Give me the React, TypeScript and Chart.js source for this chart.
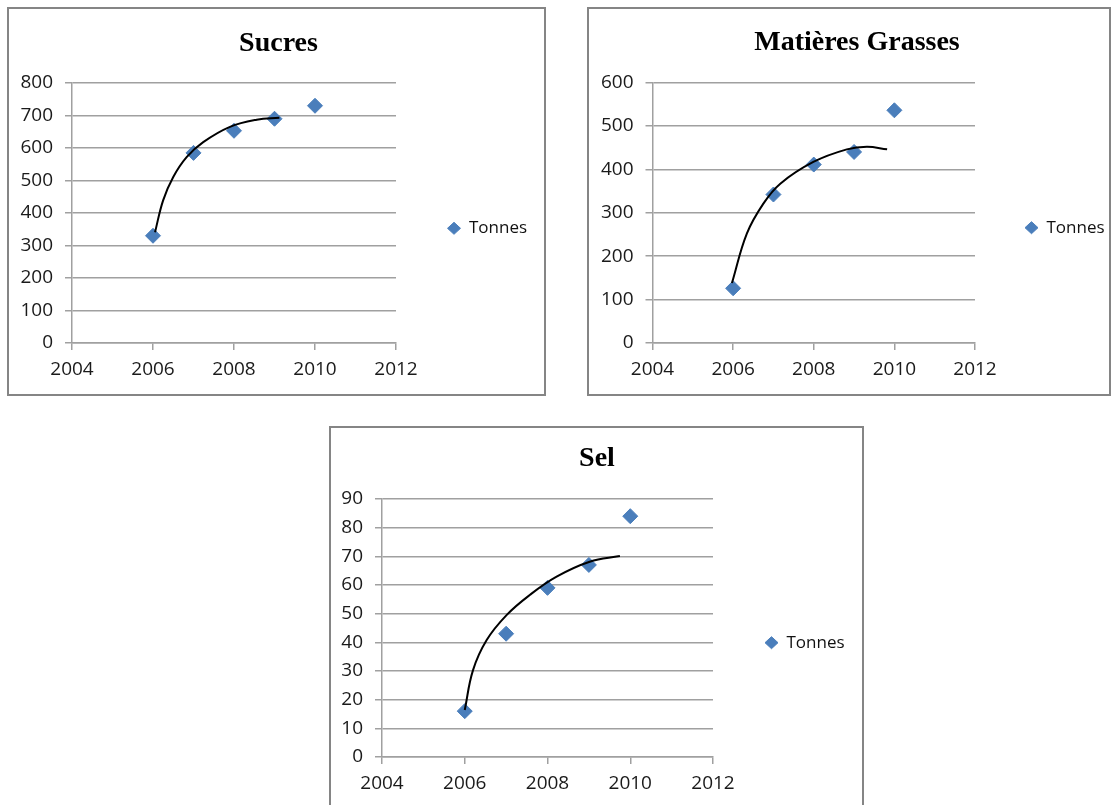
import React, { useEffect, useRef } from 'react';
import { Chart, registerables } from 'chart.js';

Chart.register(...registerables);

// ---------- data ----------
const years = [2006, 2007, 2008, 2009, 2010];
const sucresTonnes = [330, 585, 653, 690, 730];
const grassesTonnes = [126, 342, 411, 440, 536];
const selTonnes = [16, 43, 59, 67, 84];

// trend curves
const sucresTrendX = [2006.05, 2006.25, 2006.5, 2006.83, 2007.24, 2007.9, 2008.56, 2009.12];
const sucresTrendY = [341, 439, 511, 572, 618, 665, 687, 693];
const grassesTrendX = [2005.97, 2006.34, 2006.75, 2007.17, 2007.99, 2008.82, 2009.32, 2009.82];
const grassesTrendY = [138, 252, 321, 367, 417, 446, 452, 446];
const selTrendX = [2006.0, 2006.2, 2006.53, 2007.01, 2007.57, 2008.22, 2009.02, 2009.75];
const selTrendY = [16.4, 30.3, 40.8, 49.5, 56.5, 62.9, 68.1, 70.1];

const xMin = 2004;
const xMax = 2012;
const xStep = 2;
const seriesName = 'Tonnes';
const titles = ['Sucres', 'Matières Grasses', 'Sel'];
const yMaxes = [800, 600, 90];
const ySteps = [100, 100, 10];

// ---------- styles ----------
const SANS = '"Open Sans", "Liberation Sans", sans-serif';
const SERIF = '"Liberation Serif", "Times New Roman", serif';
const GRID = '#a0a0a0';
const MARKER = '#4a7ebb';

type Layout = {
  left: number; top: number; w: number; h: number; cw: number;
  padL: number; padR: number; padB: number;
  titlePt: number; titlePb: number;
  yWidth: number; xHeight: number;
  legPad: number; legMaxW: number; legTitleH: number;
};

const layouts: Layout[] = [
  { left: 7, top: 7, w: 539, h: 389, cw: 535, padL: 11, padR: 7, padB: 0, titlePt: 17.6, titlePb: 22.8,
    yWidth: 52, xHeight: 51, legPad: 51.5, legMaxW: 141, legTitleH: 30.6 },
  { left: 587, top: 7, w: 524, h: 389, cw: 536, padL: 11, padR: 11, padB: 0, titlePt: 17.2, titlePb: 22.7,
    yWidth: 52.5, xHeight: 51, legPad: 50, legMaxW: 139, legTitleH: 29.9 },
  { left: 329, top: 426, w: 535, h: 389, cw: 531, padL: 9, padR: 8, padB: 0, titlePt: 14.0, titlePb: 23.4,
    yWidth: 42, xHeight: 56, legPad: 52, legMaxW: 141, legTitleH: 29.4 },
];

const values = [sucresTonnes, grassesTonnes, selTonnes];
const trendXs = [sucresTrendX, grassesTrendX, selTrendX];
const trendYs = [sucresTrendY, grassesTrendY, selTrendY];

function Panel({ idx }: { idx: number }) {
  const ref = useRef<HTMLCanvasElement>(null);
  const L = layouts[idx];
  const cw = L.cw;
  const ch = L.h - 4;

  useEffect(() => {
    const canvas = ref.current;
    if (!canvas) return;
    const pts = years.map((x, i) => ({ x, y: values[idx][i] }));
    const trend = trendXs[idx].map((x, i) => ({ x, y: trendYs[idx][i] }));
    const chart = new Chart(canvas, {
      type: 'scatter',
      data: {
        datasets: [
          {
            label: '',
            data: trend,
            showLine: true,
            borderColor: '#000000',
            backgroundColor: '#000000',
            borderWidth: 2,
            pointRadius: 0,
            tension: 0.4,
            fill: false,
          } as any,
          {
            label: seriesName,
            data: pts,
            pointStyle: 'rectRot',
            pointRadius: 7.5,
            pointBorderWidth: 1,
            backgroundColor: MARKER,
            borderColor: MARKER,
            showLine: false,
          } as any,
        ],
      },
      options: {
        responsive: false,
        devicePixelRatio: 1,
        animation: false,
        events: [],
        layout: { padding: { left: L.padL, right: L.padR, top: 0, bottom: L.padB } },
        plugins: {
          tooltip: { enabled: false },
          title: {
            display: true,
            text: titles[idx],
            color: '#000000',
            font: { family: SERIF, size: 28, weight: 'bold', lineHeight: 1.2 },
            padding: { top: L.titlePt, bottom: L.titlePb },
          },
          legend: {
            display: true,
            position: 'right',
            fullSize: false,
            maxWidth: L.legMaxW,
            title: {
              display: true,
              text: ' ',
              font: { size: 10, lineHeight: 1.2 },
              padding: (L.legTitleH - 12) / 2,
            },
            labels: {
              usePointStyle: true,
              pointStyleWidth: 13,
              boxHeight: 8.5,
              padding: L.legPad,
              color: '#111111',
              font: { family: SANS, size: 17 },
              filter: (item: any) => item.text === seriesName,
            },
          } as any,
        },
        scales: {
          x: {
            type: 'linear',
            min: xMin,
            max: xMax,
            afterFit: (axis: any) => { axis.height = L.xHeight; },
            ticks: {
              stepSize: xStep,
              padding: 8.5,
              color: '#1a1a1a',
              font: { family: SANS, size: 19 },
              callback: (v: any) => String(v),
              maxRotation: 0,
            },
            grid: {
              drawOnChartArea: false,
              drawTicks: true,
              tickLength: 7,
              color: GRID,
              lineWidth: 1.5,
            },
            border: { display: true, color: GRID, width: 1.5 },
          },
          y: {
            type: 'linear',
            min: 0,
            max: yMaxes[idx],
            afterFit: (axis: any) => { axis.width = L.yWidth; },
            ticks: {
              stepSize: ySteps[idx],
              padding: 12,
              color: '#1a1a1a',
              font: { family: SANS, size: 19 },
              callback: (v: any) => String(v),
            },
            grid: {
              drawOnChartArea: true,
              drawTicks: true,
              tickLength: 7,
              color: GRID,
              lineWidth: 1.5,
            },
            border: { display: true, color: GRID, width: 1.5 },
          },
        },
      } as any,
    });
    return () => chart.destroy();
  }, [idx]);

  return (
    <div
      style={{
        position: 'absolute',
        left: L.left,
        top: L.top,
        width: L.w,
        height: L.h,
        border: '2px solid #858585',
        boxSizing: 'border-box',
        background: '#ffffff',
        overflow: 'hidden',
      }}
    >
      <canvas ref={ref} width={cw} height={ch} style={{ display: 'block', width: cw, height: ch }} />
    </div>
  );
}

export default function App() {
  return (
    <div
      style={{
        position: 'fixed',
        left: 0,
        top: 0,
        width: 1115,
        height: 805,
        overflow: 'hidden',
        background: '#ffffff',
      }}
    >
      <Panel idx={0} />
      <Panel idx={1} />
      <Panel idx={2} />
    </div>
  );
}
